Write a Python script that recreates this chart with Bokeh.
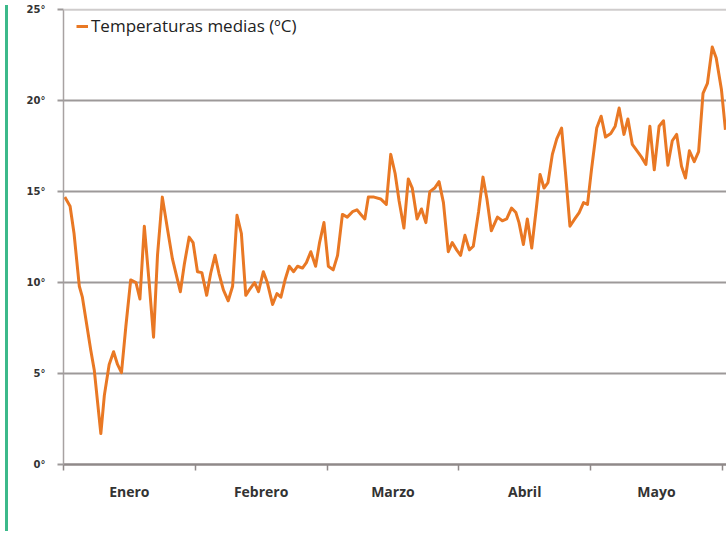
from bokeh.plotting import figure
from bokeh.models import Range1d, FixedTicker, Legend, LegendItem, Span, Div
from bokeh.layouts import row
from bokeh.embed import file_html
from bokeh.resources import INLINE

# ---- data ----
months = ["Enero", "Febrero", "Marzo", "Abril", "Mayo"]
days_per_month = 30
y_ticks = [0, 5, 10, 15, 20, 25]
y_tick_labels = ["0°", "5°", "10°", "15°", "20°", "25°"]
series_label = "Temperaturas medias (ºC)"

day = [0.3, 1.5, 2.4, 3.6, 4.3, 6.2, 7.0, 8.5, 9.3, 10.4, 11.4, 12.3, 13.2, 14.2,
       15.3, 16.5, 17.4, 18.4, 19.5, 20.5, 21.4, 22.5, 23.7, 24.8, 26.6, 27.5, 28.6,
       29.5, 30.5, 31.5, 32.6, 33.5, 34.5, 35.4, 36.4, 37.5, 38.5, 39.5, 40.5, 41.5,
       42.3, 43.5, 44.4, 45.5, 46.4, 47.6, 48.6, 49.5, 50.5, 51.4, 52.4, 53.3, 54.4,
       55.3, 56.3, 57.4, 58.3, 59.3, 60.3, 61.4, 62.4, 63.5, 64.6, 65.8, 66.8, 67.7,
       68.6, 69.4, 70.7, 72.2, 73.5, 74.5, 75.5, 76.4, 77.5, 78.5, 79.4, 80.5, 81.5,
       82.5, 83.4, 84.5, 85.5, 86.5, 87.6, 88.5, 89.5, 90.4, 91.4, 92.4, 93.3, 94.5,
       95.5, 96.4, 97.4, 98.8, 99.9, 100.9, 102.0, 103.0, 103.7, 104.7, 105.6, 106.6,
       107.7, 108.5, 109.4, 110.3, 111.3, 112.3, 113.4, 114.3, 115.3, 116.4, 117.4,
       118.4, 119.3, 120.2, 121.4, 122.4, 123.4, 124.6, 125.6, 126.5, 127.6, 128.5,
       129.5, 130.7, 131.6, 132.6, 133.5, 134.5, 135.6, 136.6, 137.6, 138.6, 139.6,
       140.7, 141.6, 142.5, 143.6, 144.6, 145.6, 146.6, 147.7, 148.6, 149.8, 150.7]

temp = [14.7, 14.2, 12.7, 9.8, 9.2, 6.3, 5.2, 1.7, 3.8, 5.5, 6.2, 5.5, 5.05, 7.6,
        10.15, 10.0, 9.1, 13.1, 10.0, 7.0, 11.5, 14.7, 12.9, 11.3, 9.5, 11.0, 12.5,
        12.2, 10.6, 10.55, 9.3, 10.5, 11.5, 10.5, 9.6, 9.0, 9.8, 13.7, 12.7, 9.3,
        9.6, 10.0, 9.5, 10.6, 10.0, 8.8, 9.4, 9.2, 10.2, 10.9, 10.6, 10.9, 10.8,
        11.1, 11.7, 10.9, 12.2, 13.3, 10.9, 10.7, 11.5, 13.75, 13.6, 13.9, 14.0, 13.75,
        13.5, 14.7, 14.7, 14.6, 14.3, 17.05, 16.0, 14.5, 13.0, 15.7, 15.2, 13.5, 14.05,
        13.3, 15.0, 15.2, 15.55, 14.4, 11.7, 12.2, 11.8, 11.5, 12.6, 11.8, 12.0, 13.9,
        15.8, 14.6, 12.85, 13.6, 13.4, 13.5, 14.1, 13.85, 13.3, 12.1, 13.5, 11.9,
        14.2, 15.95, 15.2, 15.5, 17.05, 17.9, 18.5, 16.0, 13.1, 13.5, 13.85,
        14.4, 14.3, 16.2, 18.5, 19.15, 18.0, 18.2, 18.6, 19.6, 18.15, 19.0,
        17.6, 17.2, 16.9, 16.5, 18.6, 16.2, 18.6, 18.9, 16.45, 17.8, 18.15,
        16.4, 15.75, 17.25, 16.65, 17.2, 20.4, 20.95, 22.95, 22.35, 20.6, 18.4]

# ---- figure ----
p = figure(width=715, height=526,
           x_range=Range1d(0, 151.4), y_range=Range1d(0, 25.4),
           output_backend="svg", toolbar_location=None,
           min_border_left=50, min_border_right=0,
           min_border_top=2, min_border_bottom=62)
p.outline_line_color = None
p.background_fill_color = "white"
p.border_fill_color = "white"

# grid
p.xgrid.visible = False
p.ygrid.ticker = FixedTicker(ticks=y_ticks[1:-1])
p.ygrid.grid_line_color = "#9d9999"
p.ygrid.grid_line_width = 2
p.add_layout(Span(location=y_ticks[-1], dimension="width",
                  line_color="#cfcccc", line_width=2))

# line
r = p.line(day, temp, line_color="#e97824", line_width=3, line_join="round")

# x axis: month names centred, tick marks at month boundaries
centers = [days_per_month * i + days_per_month / 2 for i in range(len(months))]
bounds = [days_per_month * i for i in range(len(months) + 1)]
xa = p.xaxis[0]
xa.ticker = FixedTicker(ticks=centers, minor_ticks=bounds)
xa.major_label_overrides = {c: m for c, m in zip(centers, months)}
xa.axis_line_color = "#8f8989"
xa.axis_line_width = 2.5
xa.major_tick_line_color = None
xa.major_tick_in = 0
xa.major_tick_out = 0
xa.minor_tick_in = 0
xa.minor_tick_out = 6
xa.minor_tick_line_color = "#8f8989"
xa.minor_tick_line_width = 1.5
xa.major_label_standoff = 11
xa.major_label_text_font = "Open Sans"
xa.major_label_text_font_style = "bold"
xa.major_label_text_font_size = "14px"
xa.major_label_text_color = "#333333"

# y axis
ya = p.yaxis[0]
ya.ticker = FixedTicker(ticks=y_ticks)
ya.major_label_overrides = {t: l for t, l in zip(y_ticks, y_tick_labels)}
ya.bounds = (y_ticks[0], y_ticks[-1])
ya.axis_line_color = "#a8a2a2"
ya.axis_line_width = 1.5
ya.major_tick_in = 0
ya.major_tick_out = 6
ya.major_tick_line_color = "#9d9999"
ya.major_tick_line_width = 2
ya.minor_tick_line_color = None
ya.major_label_standoff = 12
ya.major_label_text_font = "DejaVu Sans"
ya.major_label_text_font_style = "bold"
ya.major_label_text_font_size = "10px"
ya.major_label_text_color = "#333333"

# legend
legend = Legend(items=[LegendItem(label=series_label, renderers=[r])],
                location=(13, 427), orientation="vertical",
                glyph_width=12, glyph_height=14, label_standoff=3,
                padding=0, margin=0, spacing=0,
                border_line_color=None, background_fill_alpha=0,
                label_text_font="Open Sans", label_text_font_size="17px",
                label_text_color="#222222")
p.add_layout(legend)

green = Div(width=3, height=526, styles={"background-color": "#3cb98a"})

layout = row(green, p)
open("out.html", "w").write(file_html(layout, INLINE))
